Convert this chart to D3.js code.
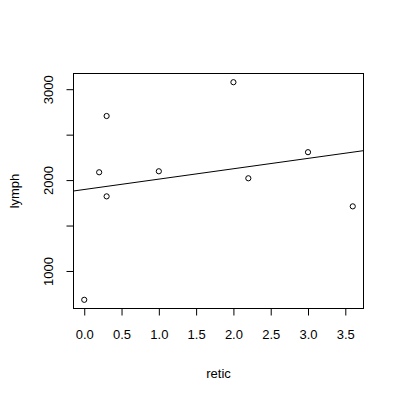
<!DOCTYPE html>
<html><head><meta charset="utf-8">
<script src="https://cdn.jsdelivr.net/npm/d3@7"></script>
<style>body{margin:0;background:#fff}svg{display:block}text{font-family:"Liberation Sans",Arial,sans-serif;font-size:13px;fill:#000}</style>
</head><body><svg id="c" width="401" height="400"></svg>
<script>
const retic = [0.0, 0.2, 0.3, 0.3, 1.0, 2.0, 2.2, 3.0, 3.6];
const lymph = [683, 2086, 2705, 1821, 2097, 3077, 2020, 2307, 1711];
const xTicks = [0, 0.5, 1, 1.5, 2, 2.5, 3, 3.5];
const yTicks = [1000, 1500, 2000, 2500, 3000];
const yLabelTicks = [1000, 2000, 3000];

const L = 73.5, R = 363.5, T = 73.5, B = 308.5;
const FS = "13px", FF = "Liberation Sans, Arial, sans-serif";
const svg = d3.select("#c");
const xr = d3.extent(retic), yr = d3.extent(lymph);
const px = (xr[1]-xr[0])*0.04, py = (yr[1]-yr[0])*0.04;
const x = d3.scaleLinear().domain([xr[0]-px, xr[1]+px]).range([L, R]);
const y = d3.scaleLinear().domain([yr[0]-py, yr[1]+py]).range([B, T]);

// box
svg.append("rect").attr("x", L).attr("y", T).attr("width", R-L).attr("height", B-T)
  .attr("fill", "none").attr("stroke", "#000").attr("stroke-width", 1);

// x axis
const xa = d3.axisBottom(x).tickValues(xTicks).tickFormat(d3.format(".1f")).tickSize(7).tickPadding(14);
const gx = svg.append("g").attr("transform", `translate(0,${B})`).call(xa);
gx.select(".domain").attr("d", `M${x(xTicks[0])},0H${x(xTicks[xTicks.length-1])}`);
gx.selectAll("text").style("font-size", FS).style("font-family", FF).attr("fill", "#000");

// y axis
const ya = d3.axisLeft(y).tickValues(yTicks).tickFormat(d => yLabelTicks.includes(d) ? d : "").tickSize(7).tickPadding(0);
const gy = svg.append("g").attr("transform", `translate(${L},0)`).call(ya);
gy.select(".domain").attr("d", `M0,${y(yTicks[0])}V${y(yTicks[yTicks.length-1])}`);
gy.selectAll(".tick text").attr("x", null).attr("dy", null)
  .attr("text-anchor", "middle").attr("transform", "translate(-24.7,0) rotate(-90)")
  .attr("y", 0).attr("dy", "0.35em")
  .style("font-size", FS).style("font-family", FF).attr("fill", "#000");

// regression line (least squares)
const mx = d3.mean(retic), my = d3.mean(lymph);
const b = d3.sum(retic, (d,i) => (d-mx)*(lymph[i]-my)) / d3.sum(retic, d => (d-mx)*(d-mx));
const a = my - b*mx;
const [x0, x1] = x.domain();
svg.append("line").attr("x1", x(x0)).attr("x2", x(x1))
  .attr("y1", y(a + b*x0)).attr("y2", y(a + b*x1))
  .attr("stroke", "#000").attr("stroke-width", 1);

// points
svg.append("g").selectAll("circle").data(retic).join("circle")
  .attr("cx", d => x(d)).attr("cy", (d,i) => y(lymph[i])).attr("r", 2.6)
  .attr("fill", "none").attr("stroke", "#000").attr("stroke-width", 1);

// labels
svg.append("text").attr("x", (L+R)/2).attr("y", 378).attr("text-anchor", "middle").text("retic");
svg.append("text").attr("transform", `translate(18.5,${(T+B)/2}) rotate(-90)`).attr("text-anchor", "middle").text("lymph");
</script></body></html>
